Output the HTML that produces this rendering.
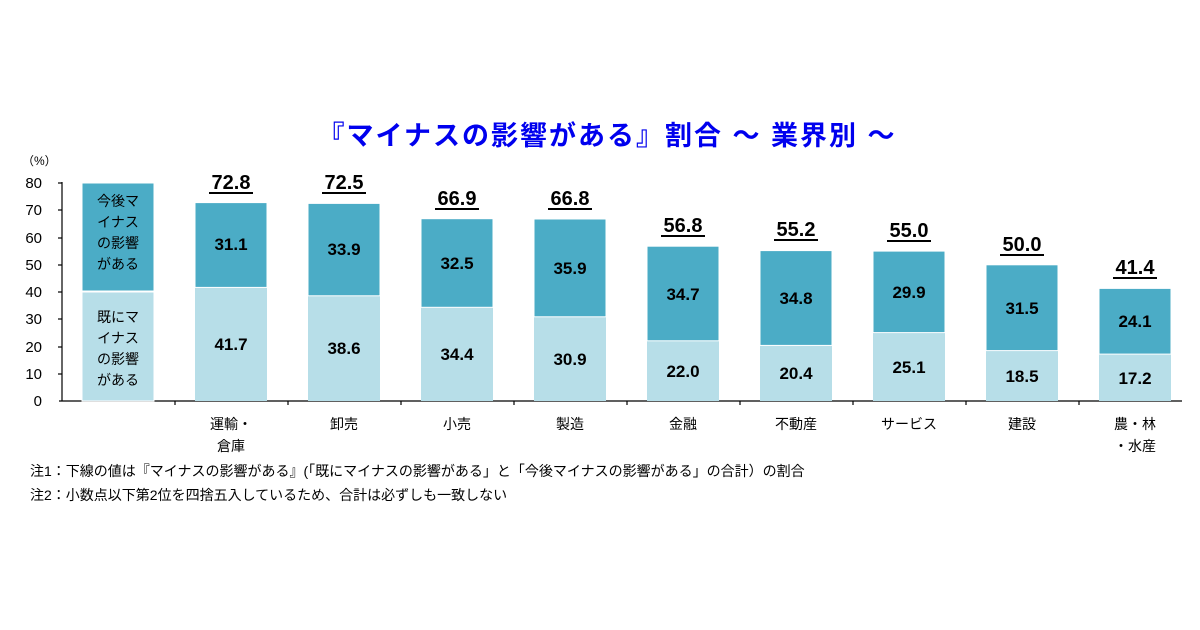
<!DOCTYPE html>
<html><head><meta charset="utf-8"><style>
html,body{margin:0;padding:0;background:#fff;}
svg{display:block;}
text{font-family:"Liberation Sans","Noto Sans CJK JP",sans-serif;}
</style></head><body>
<svg width="1200" height="630" viewBox="0 0 1200 630" xmlns="http://www.w3.org/2000/svg">
<text x="607" y="145" text-anchor="middle" font-size="27" font-weight="bold" fill="#0000ee" letter-spacing="2">『マイナスの影響がある』割合 ～ 業界別 ～</text>
<text x="22" y="165" font-size="12" fill="#000">（%）</text>
<g font-size="15" fill="#000" text-anchor="end">
<text x="42" y="406">0</text><text x="42" y="379">10</text><text x="42" y="352">20</text><text x="42" y="324">30</text><text x="42" y="297">40</text><text x="42" y="270">50</text><text x="42" y="243">60</text><text x="42" y="215">70</text><text x="42" y="188">80</text>
</g>
<g stroke="#000" stroke-width="1.2">
<line x1="62" y1="182" x2="62" y2="401"/><line x1="59" y1="401" x2="1182" y2="401"/>
<line x1="58" y1="183" x2="62" y2="183"/><line x1="58" y1="210" x2="62" y2="210"/><line x1="58" y1="238" x2="62" y2="238"/><line x1="58" y1="265" x2="62" y2="265"/><line x1="58" y1="292" x2="62" y2="292"/><line x1="58" y1="319" x2="62" y2="319"/><line x1="58" y1="347" x2="62" y2="347"/><line x1="58" y1="374" x2="62" y2="374"/>
<line x1="175" y1="401" x2="175" y2="405"/><line x1="288" y1="401" x2="288" y2="405"/><line x1="401" y1="401" x2="401" y2="405"/><line x1="514" y1="401" x2="514" y2="405"/><line x1="627" y1="401" x2="627" y2="405"/><line x1="740" y1="401" x2="740" y2="405"/><line x1="853" y1="401" x2="853" y2="405"/><line x1="966" y1="401" x2="966" y2="405"/><line x1="1079" y1="401" x2="1079" y2="405"/>
</g>
<rect x="82" y="183" width="72" height="108" fill="#4bacc6" stroke="#fff"/>
<rect x="82" y="292" width="72" height="109" fill="#b7dee8" stroke="#fff"/>
<g font-size="14" text-anchor="middle" fill="#000">
<text x="118" y="206">今後マ</text><text x="118" y="227">イナス</text><text x="118" y="248">の影響</text><text x="118" y="269">がある</text>
<text x="118" y="322">既にマ</text><text x="118" y="343">イナス</text><text x="118" y="364">の影響</text><text x="118" y="385">がある</text>
</g>
<g font-weight="bold" text-anchor="middle" fill="#000">
<rect x="195" y="287.4" width="72" height="113.6" fill="#b7dee8"/><rect x="195" y="202.6" width="72" height="84.8" fill="#4bacc6" stroke="#fff"/>
<rect x="308" y="295.8" width="72" height="105.2" fill="#b7dee8"/><rect x="308" y="203.4" width="72" height="92.4" fill="#4bacc6" stroke="#fff"/>
<rect x="421" y="307.3" width="72" height="93.7" fill="#b7dee8"/><rect x="421" y="218.7" width="72" height="88.6" fill="#4bacc6" stroke="#fff"/>
<rect x="534" y="316.8" width="72" height="84.2" fill="#b7dee8"/><rect x="534" y="219.0" width="72" height="97.8" fill="#4bacc6" stroke="#fff"/>
<rect x="647" y="341.0" width="72" height="60.0" fill="#b7dee8"/><rect x="647" y="246.2" width="72" height="94.6" fill="#4bacc6" stroke="#fff"/>
<rect x="760" y="345.4" width="72" height="55.6" fill="#b7dee8"/><rect x="760" y="250.6" width="72" height="94.8" fill="#4bacc6" stroke="#fff"/>
<rect x="873" y="332.6" width="72" height="68.4" fill="#b7dee8"/><rect x="873" y="251.1" width="72" height="81.5" fill="#4bacc6" stroke="#fff"/>
<rect x="986" y="350.6" width="72" height="50.4" fill="#b7dee8"/><rect x="986" y="264.8" width="72" height="85.8" fill="#4bacc6" stroke="#fff"/>
<rect x="1099" y="354.1" width="72" height="46.9" fill="#b7dee8"/><rect x="1099" y="288.4" width="72" height="65.7" fill="#4bacc6" stroke="#fff"/>
<g font-size="17">
<text x="231" y="250">31.1</text><text x="231" y="350">41.7</text>
<text x="344" y="255">33.9</text><text x="344" y="354">38.6</text>
<text x="457" y="269">32.5</text><text x="457" y="360">34.4</text>
<text x="570" y="274">35.9</text><text x="570" y="365">30.9</text>
<text x="683" y="300">34.7</text><text x="683" y="377">22.0</text>
<text x="796" y="304">34.8</text><text x="796" y="379">20.4</text>
<text x="909" y="298">29.9</text><text x="909" y="373">25.1</text>
<text x="1022" y="314">31.5</text><text x="1022" y="382">18.5</text>
<text x="1135" y="327">24.1</text><text x="1135" y="384">17.2</text>
</g>
<g font-size="20">
<text x="231" y="189">72.8</text><text x="344" y="189">72.5</text><text x="457" y="205">66.9</text><text x="570" y="205">66.8</text><text x="683" y="232">56.8</text><text x="796" y="236">55.2</text><text x="909" y="237">55.0</text><text x="1022" y="251">50.0</text><text x="1135" y="274">41.4</text>
</g>
<g stroke="#000" stroke-width="2">
<line x1="209" y1="193" x2="253" y2="193"/><line x1="322" y1="193" x2="366" y2="193"/><line x1="435" y1="209" x2="479" y2="209"/><line x1="548" y1="209" x2="592" y2="209"/><line x1="661" y1="236" x2="705" y2="236"/><line x1="774" y1="240" x2="818" y2="240"/><line x1="887" y1="241" x2="931" y2="241"/><line x1="1000" y1="255" x2="1044" y2="255"/><line x1="1113" y1="278" x2="1157" y2="278"/>
</g>
</g>
<g font-size="14" text-anchor="middle" fill="#000">
<text x="231" y="429">運輸・</text><text x="231" y="451">倉庫</text>
<text x="344" y="429">卸売</text><text x="457" y="429">小売</text><text x="570" y="429">製造</text><text x="683" y="429">金融</text><text x="796" y="429">不動産</text><text x="909" y="429">サービス</text><text x="1022" y="429">建設</text>
<text x="1135" y="429">農・林</text><text x="1135" y="451">・水産</text>
</g>
<g font-size="14" fill="#000">
<text x="30" y="476">注1：下線の値は『マイナスの影響がある』(「既にマイナスの影響がある」と「今後マイナスの影響がある」の合計）の割合</text>
<text x="30" y="500">注2：小数点以下第2位を四捨五入しているため、合計は必ずしも一致しない</text>
</g>
</svg>
</body></html>
